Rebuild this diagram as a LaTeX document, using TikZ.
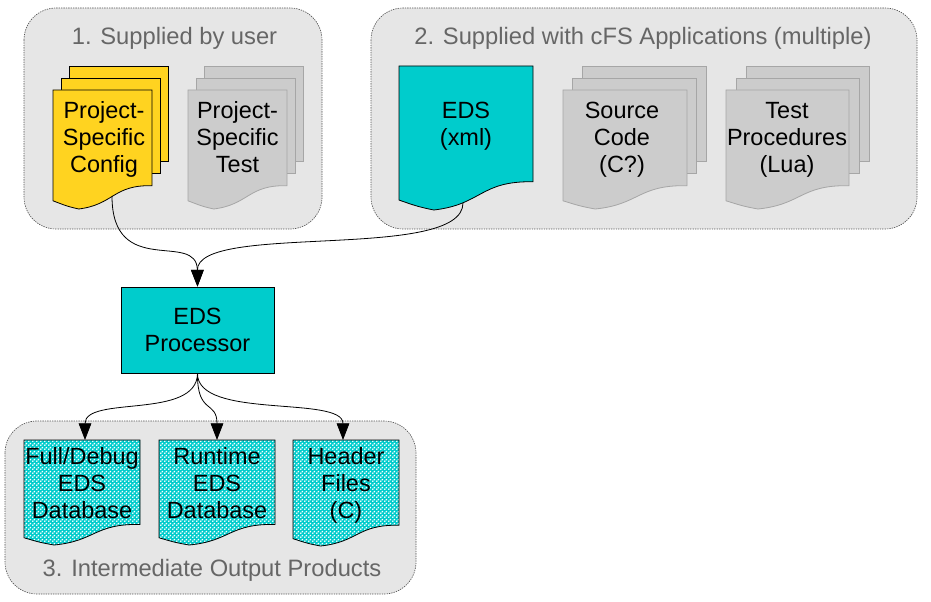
\documentclass[tikz,border=0pt]{standalone}
\usepackage{fontspec}
\setmainfont{Liberation Sans}
\usetikzlibrary{arrows.meta,patterns}
\definecolor{grpfill}{HTML}{E6E6E6}
\definecolor{grpline}{HTML}{555555}
\definecolor{titlegray}{HTML}{666666}
\definecolor{docgold}{HTML}{FFD320}
\definecolor{edscyan}{HTML}{00CCCC}
\definecolor{docgray}{HTML}{CCCCCC}
\definecolor{docgrayline}{HTML}{A6A6A6}
\pgfdeclarepatternformonly{cyandots}{\pgfpointorigin}{\pgfqpoint{3pt}{3pt}}{\pgfqpoint{3pt}{3pt}}{%
  \pgfpathcircle{\pgfqpoint{0.75pt}{0.75pt}}{0.84pt}%
  \pgfpathcircle{\pgfqpoint{2.25pt}{2.25pt}}{0.84pt}%
  \pgfusepath{fill}}
\newcommand\mydocpath[5]{\path[#5] (#1,#2) -- ({#1+#3},#2) -- ({#1+#3},{#2+0.804*#4})
  .. controls ({#1+0.604*#3},{#2+0.797*#4}) and ({#1+0.618*#3},{#2+0.962*#4}) .. ({#1+0.26*#3},{#2+#4})
  .. controls ({#1+0.132*#3},{#2+0.977*#4}) and ({#1+0.0856*#3},{#2+0.958*#4}) .. (#1,{#2+0.931*#4}) -- cycle;}
\newcommand\mystack[6]{%
  \path[#6] ({#1+2*#5},{#2-24}) rectangle ++(#3,{0.804*#4});
  \path[#6] ({#1+#5},{#2-12}) rectangle ++(#3,{0.804*#4});
  \mydocpath{#1}{#2}{#3}{#4}{#6}}
\begin{document}
\begin{tikzpicture}[x=0.75pt,y=-0.75pt,
  grp/.style={fill=grpfill,draw=grpline,dash pattern=on 1pt off 0.8pt,line width=0.5pt,rounded corners=24pt},
  title/.style={anchor=base,inner sep=0pt,text=titlegray,font=\fontsize{17.8pt}{20.25pt}\selectfont},
  doctext/.style={anchor=north,inner sep=0pt,align=center,font=\fontsize{17.6pt}{20.25pt}\selectfont},
  stackgold/.style={fill=docgold,draw=black,line width=0.6pt},
  stackgray/.style={fill=docgray,draw=docgrayline,line width=0.6pt},
  edsdoc/.style={fill=edscyan,draw=black,line width=0.6pt},
  outdoc/.style={preaction={fill=edscyan},pattern=cyandots,pattern color=white,draw=black,line width=0.6pt},
  procbox/.style={draw=black,fill=edscyan,line width=0.6pt,minimum width=114.75pt,minimum height=64.5pt,
    align=center,font=\fontsize{17.6pt}{20.25pt}\selectfont},
  conn/.style={draw=black,line width=0.6pt,-{Triangle[length=12.5pt,width=9.5pt]}}]
\useasboundingbox (0,0) rectangle (931,602);
% groups
\path[grp] (24,8) rectangle (322,229);
\path[grp] (371,8) rectangle (917,229);
\path[grp] (5,421) rectangle (416,594);
\node[title] (t1) at (174.5,45) {1. Supplied by user};
\node[title] (t2) at (643,45) {2. Supplied with cFS Applications (multiple)};
\node[title] (t3) at (212,576.5) {3. Intermediate Output Products};
% input documents
\mystack{53}{90}{99}{119}{8}{stackgold}
\mystack{188}{90}{99}{119}{8}{stackgray}
\mystack{563}{90}{124}{119}{9.5}{stackgray}
\mystack{726}{90}{123}{119}{10}{stackgray}
\mydocpath{399}{66}{134}{144}{edsdoc}
\node[doctext] (cfg) at (104,101.6) {Project-\\Specific\\Config};
\node[doctext] (ptest) at (237.5,101.6) {Project-\\Specific\\Test};
\node[doctext] (eds) at (466,101.6) {EDS\\(xml)};
\node[doctext] (src) at (622,101.6) {Source\\Code\\(C?)};
\node[doctext] (tproc) at (787,102.5) {Test\\Procedures\\(Lua)};
% processor
\node[procbox] (proc) at (197.5,330) {EDS\\Processor};
% output documents
\mydocpath{24}{440}{116}{105}{outdoc}
\mydocpath{159}{440}{116}{105}{outdoc}
\mydocpath{293}{440}{106}{106}{outdoc}
\node[doctext] (full) at (82,447) {Full/Debug\\EDS\\Database};
\node[doctext] (rt) at (217,447) {Runtime\\EDS\\Database};
\node[doctext] (hdr) at (346,447) {Header\\Files\\(C)};
% connectors
\coordinate (cfgout) at (112,196);
\coordinate (edsout) at (463,203);
\coordinate (fullin) at (85,440);
\coordinate (rtin) at (217,440);
\coordinate (hdrin) at (343,440);
\draw[conn] (cfgout) .. controls (112,280) and (197,230) .. (proc.north);
\draw[conn] (edsout) .. controls (463,262) and (197,222) .. (proc.north);
\draw[conn] (proc.south) .. controls (197,420) and (85,395) .. (fullin);
\draw[conn] (proc.south) .. controls (197,415) and (217,400) .. (rtin);
\draw[conn] (proc.south) .. controls (197,420) and (343,395) .. (hdrin);
\end{tikzpicture}
\end{document}
